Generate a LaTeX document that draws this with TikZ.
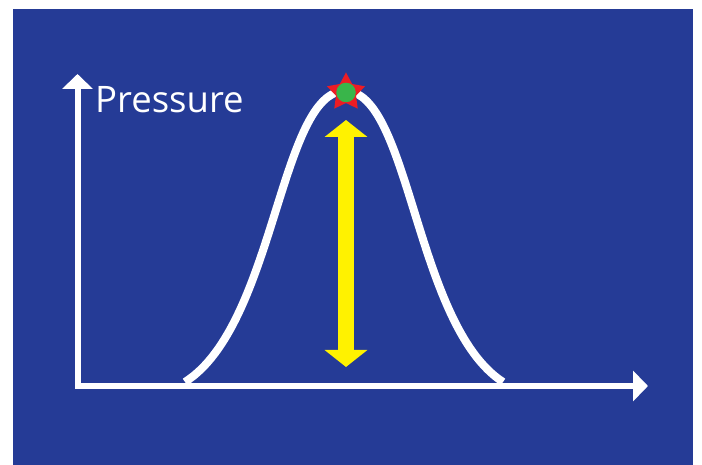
\documentclass[tikz,border=0pt]{standalone}
\usepackage{fontspec}
\newfontfamily\labelfont{Open Sans}
\usetikzlibrary{arrows.meta,shapes.geometric}
\definecolor{bgblue}{RGB}{37,59,150}
\definecolor{arrowyellow}{RGB}{255,242,0}
\definecolor{starred}{RGB}{237,28,36}
\definecolor{dotgreen}{RGB}{57,181,74}
\begin{document}
\begin{tikzpicture}[x=1pt,y=1pt,
  axis/.style={white,line width=6pt,{Triangle[width=30pt,length=15pt]}-{Triangle[width=30pt,length=15pt]}},
  bell/.style={white,line width=8pt},
  span/.style={arrowyellow,line width=16pt,{Triangle[width=42pt,length=17pt]}-{Triangle[width=42pt,length=17pt]}}]
  \useasboundingbox (0,0) rectangle (702,465);
  \fill[bgblue] (13,0) rectangle (693,456);
  \coordinate (O) at (77.5,79);
  \coordinate (ytip) at (77.5,391);
  \coordinate (xtip) at (648,79);
  \draw[axis] (ytip) -- (O) -- (xtip);
  \node[anchor=base west,inner sep=0pt,white,font=\labelfont\fontsize{36.5}{40}\selectfont] (ylabel) at (95,352) {Pressure};
  % bell shaped pressure curve
  \coordinate (left) at (185,83);
  \coordinate (max) at (345,374);
  \coordinate (right) at (503,83);
  \draw[bell] (left) .. controls (275,140) and (280,374) .. (max)
    .. controls (410,374) and (415,140) .. (right);
  \coordinate (top) at (346,345);
  \coordinate (bottom) at (346,98);
  \draw[span] (top) -- (bottom);
  \node[star,star points=5,star point ratio=1.9,minimum size=40pt,inner sep=0pt,fill=starred] (peak) at (346,372.5) {};
  \node[circle,minimum size=19.5pt,inner sep=0pt,fill=dotgreen] (dot) at (peak.center) {};
\end{tikzpicture}
\end{document}
